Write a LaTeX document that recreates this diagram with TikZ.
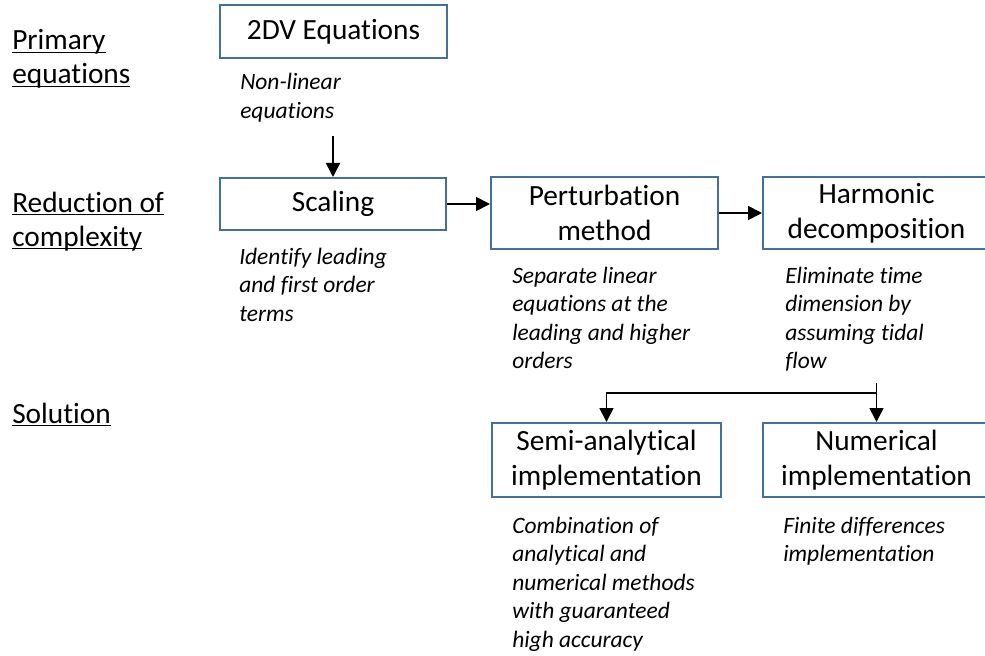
\documentclass[tikz,border=0pt]{standalone}
\usepackage{fontspec}
\setmainfont{Carlito}[Ligatures=NoCommon]
\usetikzlibrary{arrows.meta}
\definecolor{boxblue}{HTML}{41719C}
\newlength\ulwidth
\newcommand\ulword[1]{\leavevmode\settowidth\ulwidth{#1}\rlap{\rule[-2.3pt]{\ulwidth}{1.1pt}}#1}
\tikzset{
  stagebox/.style={draw=boxblue, line width=1.5pt, fill=white, align=center,
    font=\fontsize{22}{26.25}\selectfont, inner sep=0pt},
  notetext/.style={anchor=base west, align=flush left, inner sep=0pt, text width=160pt,
    font=\fontsize{17.6}{21.4}\selectfont\itshape},
  rowlabel/.style={anchor=base west, align=flush left, inner sep=0pt, text width=130pt,
    font=\fontsize{22}{25.5}\selectfont},
  flowarrow/.style={line width=1.25pt, -{Triangle[length=10.5pt,width=10.5pt]}}
}
\begin{document}
\begin{tikzpicture}[x=0.75pt, y=-0.75pt]
                    \useasboundingbox (0,0) rectangle (985,656);
                    \clip (0,0) rectangle (985,656);
                    \node (lprimary) at (12,50) [rowlabel] {\ulword{Primary}\\\ulword{equations}};
                    \node (lreduction) at (12,212) [rowlabel] {\ulword{Reduction of}\\\ulword{complexity}};
                    \node (lsolution) at (12,423) [rowlabel] {\ulword{Solution}};
                    \node (eqs) at (333.5,31.5) [stagebox, minimum width=170.25pt, minimum height=39.75pt] {2DV Equations};
                    \node (scaling) at (333,204) [stagebox, minimum width=169.5pt, minimum height=39pt] {Scaling};
                    \node (perturb) at (604.5,213) [stagebox, minimum width=170.25pt, minimum height=54pt] {Perturbation\\method};
                    \node (harmonic) at (876.5,213) [stagebox, minimum width=170.25pt, minimum height=54pt] {Harmonic\\decomposition};
                    \node (semi) at (606.5,460) [stagebox, minimum width=171.75pt, minimum height=55.5pt] {Semi-analytical\\implementation};
                    \node (numerical) at (876.5,460) [stagebox, minimum width=170.25pt, minimum height=55.5pt] {Numerical\\implementation};
                    \node (noteeqs) at (240,90) [notetext] {Non-linear\\equations};
                    \node (notescaling) at (239,264) [notetext] {Identify leading\\and first order\\terms};
                    \node (noteperturb) at (512,283) [notetext] {Separate linear\\equations at the\\leading and higher\\orders};
                    \node (noteharmonic) at (785,283) [notetext] {Eliminate time\\dimension by\\assuming tidal\\flow};
                    \node (notesemi) at (512,533) [notetext] {Combination of\\analytical and\\numerical methods\\with guaranteed\\high accuracy};
                    \node (notenumerical) at (783,533) [notetext] {Finite differences\\implementation};
                    \coordinate (eqsout) at (333,136);
                    \coordinate (fork) at (876.5,383);
                    \draw[flowarrow] (eqsout) -- (scaling.north);
                    \draw[flowarrow] (scaling.east) -- (scaling.east -| perturb.west);
                    \draw[flowarrow] (perturb.east) -- (harmonic.west);
                    \draw[flowarrow] (fork) -- ++(0,10) -| (semi.north);
                    \draw[flowarrow] (fork) -- (numerical.north);
\end{tikzpicture}
\end{document}
